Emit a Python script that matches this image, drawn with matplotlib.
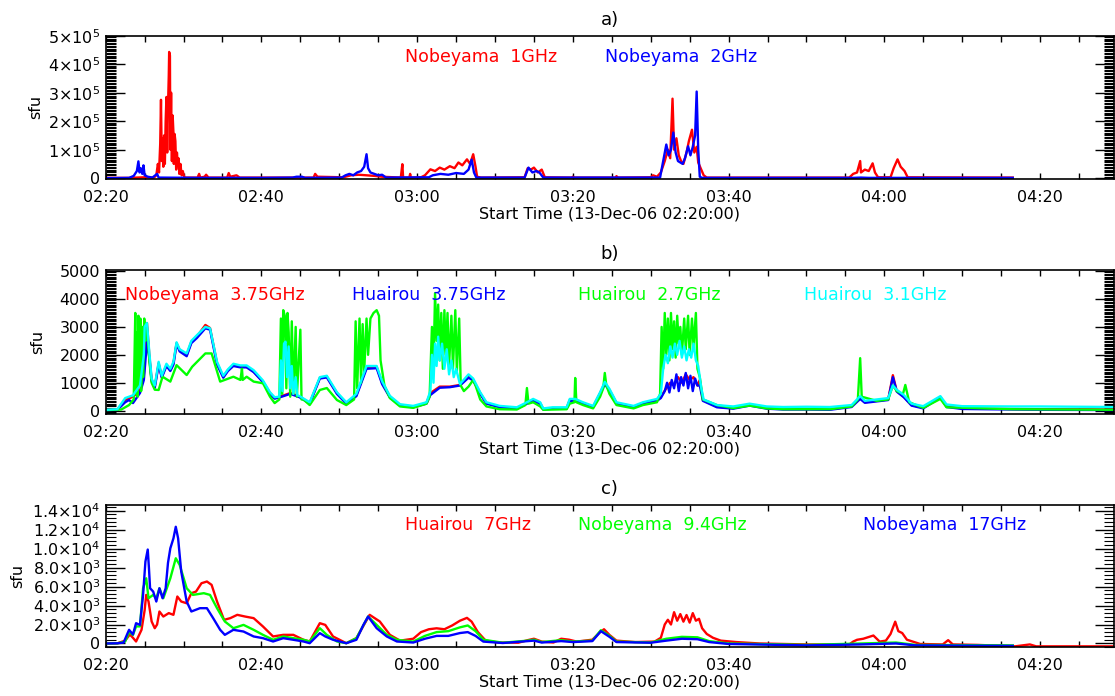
import numpy as np
import matplotlib.pyplot as plt
from matplotlib.ticker import MultipleLocator

# time axis: minutes after 02:20:00 UT (13-Dec-06)
xticks = [0, 20, 40, 60, 80, 100, 120]
xticklabels = ['02:20', '02:40', '03:00', '03:20', '03:40', '04:00', '04:20']

# each series: (minute, flux) pairs
# ---- a) Nobeyama 1 GHz / 2 GHz, flux in units of 1e5 sfu
a_red = [(0, 0.01), (3, 0.01), (4.2, 0.02), (5.0, 0.03), (6.2, 0.02), (6.5, 0.1), (6.7, 0.5),
         (6.85, 0.2), (7.0, 1.2), (7.1, 2.75), (7.2, 0.6), (7.3, 1.4), (7.4, 0.4), (7.5, 1.5),
         (7.6, 0.5), (7.7, 2.0), (7.8, 2.85), (7.9, 0.9), (8.0, 2.5), (8.1, 3.6), (8.15, 4.43),
         (8.25, 4.3), (8.3, 1.0), (8.4, 3.0), (8.5, 0.6), (8.6, 2.2), (8.7, 1.6), (8.75, 0.5),
         (8.85, 1.55), (8.95, 1.3), (9.05, 0.3), (9.15, 0.9), (9.25, 0.5), (9.35, 0.7),
         (9.45, 0.15), (9.6, 0.5), (9.75, 0.1), (9.9, 0.25), (10.1, 0.02), (11.8, 0.02),
         (12.0, 0.15), (12.15, 0.02), (12.7, 0.05), (12.9, 0.12), (13.2, 0.02), (15.6, 0.02),
         (15.8, 0.18), (16.0, 0.05), (16.8, 0.1), (17.2, 0.02), (26.7, 0.02), (26.9, 0.15),
         (27.2, 0.05), (30.5, 0.03), (31.5, 0.1), (32.5, 0.12), (33.5, 0.1), (34.5, 0.08),
         (35.5, 0.05), (37.9, 0.02), (38.1, 0.49), (38.2, 0.02), (39.0, 0.02), (39.1, 0.15),
         (39.2, 0.02), (40.5, 0.03), (41.0, 0.1), (41.7, 0.31), (42.3, 0.25), (42.9, 0.37),
         (43.5, 0.3), (44.2, 0.42), (44.8, 0.35), (45.3, 0.55), (45.8, 0.45), (46.4, 0.66),
         (46.8, 0.5), (47.2, 0.84), (47.5, 0.4), (47.7, 0.05), (48.2, 0.02), (53.8, 0.03),
         (54.2, 0.35), (54.6, 0.3), (55.0, 0.37), (55.5, 0.2), (56.0, 0.3), (56.4, 0.03),
         (59.9, 0.02), (60.0, 0.05), (60.2, 0.02), (65.5, 0.02), (65.6, 0.07), (65.8, 0.02),
         (70.0, 0.03), (70.3, 0.1), (70.8, 0.05), (71.3, 0.2), (71.8, 0.6), (72.2, 1.0),
         (72.5, 0.7), (72.8, 2.79), (73.0, 1.0), (73.3, 1.4), (73.6, 0.8), (73.9, 0.6),
         (74.2, 0.5), (74.6, 0.9), (74.9, 1.3), (75.3, 1.7), (75.6, 0.9), (75.9, 1.1),
         (76.1, 0.55), (76.8, 0.1), (77.2, 0.02), (95.5, 0.02), (96.0, 0.15), (96.5, 0.2),
         (96.9, 0.6), (97.0, 0.2), (97.5, 0.3), (98.0, 0.25), (98.5, 0.52), (98.8, 0.2),
         (99.2, 0.03), (100.8, 0.03), (101.2, 0.35), (101.7, 0.66), (102.1, 0.4), (102.6, 0.25),
         (103.0, 0.03), (116.5, 0.02)]
a_blue = [(0, 0.0), (3.0, 0.01), (3.6, 0.08), (4.0, 0.25), (4.2, 0.59), (4.35, 0.2), (4.5, 0.35),
          (4.7, 0.15), (4.85, 0.45), (5.0, 0.1), (5.4, 0.05), (6.0, 0.02), (6.6, 0.15), (6.8, 0.02),
          (12, 0.01), (20, 0.01), (24.0, 0.02), (24.5, 0.05), (25.2, 0.05), (25.6, 0.01),
          (30.3, 0.02), (30.8, 0.1), (31.3, 0.15), (31.8, 0.1), (32.3, 0.2), (32.8, 0.25),
          (33.2, 0.4), (33.5, 0.84), (33.7, 0.35), (34.0, 0.2), (34.5, 0.15), (35.0, 0.1),
          (35.5, 0.12), (36.0, 0.02), (41.5, 0.03), (42.0, 0.1), (43.0, 0.15), (44.0, 0.12),
          (45.0, 0.18), (46.0, 0.15), (46.6, 0.3), (47.0, 0.65), (47.3, 0.2), (47.6, 0.02),
          (53.8, 0.02), (54.3, 0.37), (54.8, 0.2), (55.3, 0.25), (55.7, 0.2), (56.2, 0.02),
          (71.2, 0.02), (71.6, 0.6), (72.0, 1.18), (72.3, 0.8), (72.6, 1.0), (72.9, 1.6),
          (73.2, 0.9), (73.5, 0.6), (73.8, 0.55), (74.1, 0.5), (74.4, 0.7), (74.8, 1.12),
          (75.1, 0.8), (75.4, 1.1), (75.7, 1.5), (75.9, 3.04), (76.1, 1.0), (76.3, 0.05),
          (76.6, 0.01), (96, 0.01), (97, 0.02), (98, 0.01), (116.5, 0.01)]

# ---- b) 3.75 / 2.7 / 3.1 GHz, sfu
b_red = [(0, 30), (1.5, 40), (2.5, 380), (3.5, 500), (4.4, 700), (4.9, 1300), (5.3, 3140),
         (5.6, 2000), (5.9, 1100), (6.3, 860), (6.8, 1700), (7.2, 1215), (7.8, 1630), (8.3, 1450),
         (8.7, 1700), (9.1, 2420), (9.5, 2170), (10.4, 1990), (11.0, 2470), (11.7, 2650),
         (12.8, 3070), (13.4, 2960), (14.3, 1700), (15.1, 1215), (15.7, 1450), (16.4, 1630),
         (17.3, 1570), (18.1, 1570), (19.0, 1400), (20.2, 1040), (21.1, 630), (21.7, 450),
         (22.4, 500), (23.7, 630), (24.9, 500), (26.2, 270), (27.5, 1170), (28.4, 1215),
         (29.7, 630), (30.9, 270), (32.2, 560), (33.5, 1570), (34.8, 1570), (35.5, 1000),
         (36.5, 500), (37.8, 200), (39.5, 140), (41.2, 270), (41.7, 630), (42.9, 860),
         (44.2, 860), (45.5, 920), (46.6, 1215), (47.2, 1100), (48.1, 630), (48.9, 270),
         (50.6, 140), (52.8, 90), (54.1, 270), (54.9, 380), (55.8, 270), (56.2, 50), (57.4, 90),
         (59.2, 90), (59.6, 380), (60.3, 380), (61.3, 270), (62.6, 140), (63.5, 630), (64.1, 990),
         (64.7, 740), (65.6, 270), (67.8, 140), (69.0, 270), (70.8, 380), (71.3, 500), (72.0, 800),
         (72.5, 1000), (73.0, 900), (73.5, 1200), (74.0, 1000), (74.5, 1300), (75.0, 1100),
         (75.5, 1200), (76.0, 900), (76.3, 1100), (76.7, 380), (78.5, 140), (80.6, 90),
         (82.7, 200), (84.9, 90), (87.0, 60), (90, 60), (93, 50), (95.8, 150), (96.9, 450),
         (97.5, 300), (99, 350), (100.5, 400), (101.1, 1270), (101.6, 700), (102.5, 500),
         (103.5, 200), (105, 100), (107.2, 490), (108, 150), (110, 80), (116.5, 60), (120, 50),
         (129.5, 40)]
b_blue = [(0, 20), (1.5, 30), (2.5, 300), (3.0, 380), (3.5, 270), (4.4, 630), (4.9, 1100),
          (5.3, 2470), (5.6, 1900), (5.9, 1050), (6.3, 820), (6.8, 1650), (7.2, 1180), (7.8, 1600),
          (8.3, 1420), (8.7, 1650), (9.1, 2380), (9.5, 2120), (10.4, 1950), (11.0, 2420),
          (11.7, 2600), (12.8, 2950), (13.4, 2900), (14.3, 1650), (15.1, 1180), (15.7, 1420),
          (16.4, 1600), (17.3, 1550), (18.1, 1550), (19.0, 1380), (20.2, 1020), (21.1, 600),
          (21.7, 430), (22.4, 480), (23.7, 600), (24.9, 480), (26.2, 250), (27.5, 1150),
          (28.4, 1190), (29.7, 600), (30.9, 250), (32.2, 520), (33.5, 1500), (34.8, 1520),
          (35.5, 950), (36.5, 470), (37.8, 180), (39.5, 120), (41.2, 250), (41.7, 560),
          (42.9, 820), (44.2, 840), (45.5, 900), (46.6, 1180), (47.2, 1080), (48.1, 600),
          (48.9, 250), (50.6, 120), (52.8, 70), (54.1, 250), (54.9, 350), (55.8, 250), (56.2, 40),
          (57.4, 70), (59.2, 70), (59.6, 350), (60.3, 350), (61.3, 250), (62.6, 120), (63.5, 600),
          (64.1, 950), (64.7, 720), (65.6, 250), (67.8, 120), (69.0, 250), (70.8, 350),
          (71.3, 450), (71.8, 700), (72.1, 1000), (72.4, 650), (72.7, 1100), (73.0, 800),
          (73.3, 1300), (73.6, 700), (73.9, 1200), (74.2, 900), (74.5, 1350), (74.8, 800),
          (75.1, 1250), (75.4, 700), (75.7, 1150), (76.0, 900), (76.3, 900), (76.7, 350),
          (78.5, 120), (80.6, 70), (82.7, 180), (84.9, 70), (87.0, 40), (90, 40), (93, 30),
          (95.8, 130), (96.9, 420), (97.5, 280), (99, 330), (100.5, 380), (101.1, 1200),
          (101.6, 680), (102.5, 480), (103.5, 180), (105, 80), (107.2, 470), (108, 130), (110, 60),
          (116.5, 40), (120, 30), (129.5, 20)]
b_green = [(0, 20), (2.0, 40), (3.0, 200), (3.6, 400), (3.8, 3500), (3.9, 600), (4.0, 2800),
           (4.1, 500), (4.2, 3400), (4.3, 900), (4.45, 3300), (4.55, 700), (4.7, 3000), (4.8, 1200),
           (4.95, 3300), (5.1, 2500), (5.3, 3000), (5.6, 1800), (5.9, 1000), (6.3, 750), (6.8, 740),
           (7.3, 1215), (8.3, 1040), (9.1, 1630), (10.4, 1275), (11.1, 1570), (12.8, 2050),
           (13.6, 2050), (14.7, 1040), (16.4, 1215), (17.3, 1100), (17.5, 1500), (17.6, 1100),
           (18.1, 1215), (19.0, 1040), (20.2, 980), (21.1, 500), (21.7, 270), (22.3, 400),
           (22.5, 3300), (22.65, 600), (22.8, 3600), (23.0, 3400), (23.2, 800), (23.35, 3500),
           (23.5, 2800), (23.7, 500), (23.9, 3200), (24.1, 600), (24.4, 3000), (24.55, 500),
           (25.0, 2900), (25.15, 400), (25.4, 400), (26.2, 200), (27.5, 740), (28.4, 810),
           (29.7, 380), (30.9, 200), (31.9, 400), (32.1, 3200), (32.3, 800), (32.6, 3300),
           (32.8, 1000), (33.0, 3100), (33.2, 1400), (33.5, 3300), (33.7, 2000), (34.0, 3300),
           (34.4, 3500), (34.8, 3600), (35.1, 3400), (35.3, 1800), (35.8, 900), (36.5, 450),
           (37.8, 150), (39.5, 100), (41.2, 250), (41.6, 500), (41.9, 3000), (42.1, 1500),
           (42.3, 4210), (42.5, 2500), (42.7, 3800), (42.9, 1800), (43.1, 3500), (43.3, 1500),
           (43.5, 3600), (43.7, 2000), (43.9, 3500), (44.1, 1600), (44.4, 3400), (44.6, 1500),
           (44.9, 3600), (45.1, 1400), (45.4, 3300), (45.6, 900), (46.0, 700), (46.6, 860),
           (47.2, 1100), (47.5, 900), (48.1, 400), (48.9, 150), (50.6, 50), (52.8, 40), (53.9, 200),
           (54.1, 810), (54.3, 250), (54.9, 300), (55.8, 150), (56.2, 30), (59.2, 50), (59.6, 250),
           (60.2, 300), (60.3, 1170), (60.45, 300), (61.3, 200), (62.6, 80), (63.5, 500),
           (63.9, 800), (64.1, 1350), (64.3, 900), (64.7, 600), (65.6, 200), (67.8, 80), (69.0, 200),
           (70.8, 300), (71.2, 600), (71.4, 3000), (71.6, 1500), (71.8, 3500), (72.0, 2000),
           (72.2, 3300), (72.4, 1800), (72.6, 3500), (72.8, 2200), (73.0, 3200), (73.2, 1900),
           (73.4, 3400), (73.6, 2400), (73.8, 3000), (74.0, 2000), (74.3, 3300), (74.5, 2200),
           (74.8, 3400), (75.0, 2000), (75.3, 3300), (75.5, 2300), (75.8, 3500), (76.0, 1500),
           (76.3, 1200), (76.7, 400), (78.5, 200), (80.6, 90), (82.7, 180), (84.9, 80), (87.0, 50),
           (93, 50), (95.8, 150), (96.6, 400), (96.9, 1880), (97.1, 500), (99, 350), (100.5, 400),
           (101.1, 900), (101.6, 700), (102.4, 600), (102.7, 920), (103.2, 300), (105, 100),
           (107.2, 420), (108, 120), (116.5, 50), (129.5, 30)]
b_cyan = [(0, 30), (1.5, 50), (2.5, 450), (3.5, 550), (4.4, 900), (4.9, 2000), (5.0, 3000),
          (5.3, 3140), (5.6, 2100), (5.9, 1150), (6.3, 900), (6.8, 1750), (7.2, 1250), (7.8, 1680),
          (8.3, 1500), (8.7, 1750), (9.1, 2450), (9.5, 2200), (10.4, 2050), (11.0, 2500),
          (11.7, 2700), (12.8, 3000), (13.4, 2950), (14.3, 1750), (15.1, 1250), (15.7, 1480),
          (16.4, 1680), (17.3, 1620), (18.1, 1620), (19.0, 1450), (20.2, 1080), (21.1, 660),
          (21.7, 480), (22.3, 500), (22.5, 1800), (22.7, 700), (22.9, 2400), (23.1, 2470),
          (23.3, 1200), (23.5, 2300), (23.7, 800), (23.9, 1600), (24.1, 600), (24.4, 1200),
          (24.6, 550), (24.9, 520), (26.2, 300), (27.5, 1200), (28.4, 1250), (29.7, 660),
          (30.9, 300), (32.2, 600), (33.5, 1600), (34.8, 1600), (35.5, 1050), (36.5, 530),
          (37.8, 230), (39.5, 170), (41.2, 300), (41.7, 700), (41.9, 2000), (42.1, 1000),
          (42.3, 2400), (42.5, 1600), (42.7, 2650), (42.9, 1800), (43.2, 2400), (43.5, 1500),
          (43.8, 2200), (44.1, 1300), (44.4, 1800), (44.7, 1200), (45.0, 1500), (45.5, 950),
          (46.6, 1300), (47.2, 1150), (48.1, 660), (48.9, 300), (50.6, 170), (52.8, 120),
          (54.1, 300), (54.9, 420), (55.8, 300), (56.2, 80), (57.4, 120), (59.2, 120), (59.6, 420),
          (60.3, 420), (61.3, 300), (62.6, 170), (63.5, 660), (64.1, 1030), (64.7, 780),
          (65.6, 300), (67.8, 170), (69.0, 300), (70.8, 420), (71.3, 600), (71.6, 1500),
          (71.9, 2000), (72.2, 1700), (72.5, 2300), (72.8, 1900), (73.1, 2400), (73.4, 2000),
          (73.7, 2500), (74.0, 1900), (74.3, 2300), (74.6, 1800), (74.9, 2200), (75.2, 1900),
          (75.5, 2400), (75.8, 1800), (76.1, 1600), (76.5, 800), (76.8, 400), (78.5, 200),
          (80.6, 150), (82.7, 250), (84.9, 150), (87.0, 130), (90, 140), (93, 130), (95.8, 200),
          (96.9, 520), (97.5, 350), (99, 400), (100.5, 450), (101.1, 900), (101.6, 750),
          (102.5, 560), (103.5, 250), (105, 160), (107.2, 520), (108, 220), (110, 160),
          (116.5, 150), (120, 150), (129.5, 130)]

# ---- c) Huairou 7 GHz, Nobeyama 9.4 / 17 GHz, sfu
c_red = [(0, 0), (1.5, 20), (2.5, 300), (3.1, 950), (3.5, 600), (3.9, 210), (4.6, 1440), (5.0, 3500),
         (5.2, 5120), (5.5, 4420), (5.9, 2320), (6.3, 1610), (6.6, 2000), (6.9, 3370), (7.4, 2840),
         (8.1, 3200), (8.7, 3020), (9.2, 4950), (9.7, 4420), (10.4, 4240), (11.0, 5300),
         (11.6, 5470), (12.3, 6350), (13.0, 6530), (13.6, 6180), (14.3, 4420), (15.2, 2490),
         (16.0, 2670), (16.9, 3020), (17.9, 2840), (19.0, 2670), (20.2, 1790), (21.5, 740),
         (22.8, 910), (24.1, 910), (25.4, 390), (26.2, 210), (27.5, 2140), (28.2, 1960),
         (29.2, 740), (30.9, 30), (32.2, 560), (33.9, 3020), (35.2, 2320), (36.5, 910), (37.8, 300),
         (39.5, 500), (40.5, 1200), (41.5, 1500), (42.5, 1600), (43.5, 1500), (44.5, 1900),
         (45.5, 2400), (46.4, 2700), (47.0, 2300), (47.8, 1200), (48.8, 300), (50.5, 100), (53, 80),
         (54.2, 350), (55, 500), (56, 200), (57.5, 100), (58.5, 500), (59.5, 400), (60.5, 200),
         (61.5, 300), (62.5, 400), (63.5, 1200), (64.0, 1500), (64.7, 900), (65.6, 300), (68, 150),
         (70.5, 200), (71.3, 600), (71.8, 2000), (72.2, 2500), (72.6, 2000), (73.0, 3300),
         (73.4, 2400), (73.8, 3100), (74.2, 2300), (74.6, 3000), (75.0, 2200), (75.4, 3200),
         (75.8, 2400), (76.2, 2600), (76.6, 1600), (77.2, 1000), (78.0, 600), (79.0, 300),
         (81, 150), (84, 0), (90, -100), (95.5, -100), (96.0, 200), (96.5, 390), (97.3, 500),
         (98.6, 840), (99.4, 200), (100.2, 300), (100.8, 1000), (101.4, 2300), (101.8, 1300),
         (102.3, 1100), (102.9, 400), (104.6, -50), (107.5, -100), (108.2, 350), (108.8, -100),
         (112, -150), (116.8, -300), (118.7, -100), (119.5, -300), (124, -300), (129.5, -300)]
c_green = [(0, 0), (1.5, 20), (2.5, 200), (3.0, 1200), (3.5, 900), (3.9, 1800), (4.4, 1800),
           (4.8, 5820), (5.2, 6870), (5.5, 4770), (6.1, 5120), (6.5, 4770), (6.9, 5820), (7.4, 4770),
           (8.3, 6870), (9.0, 8980), (9.5, 8280), (10.4, 5820), (11.2, 5120), (12.6, 5300),
           (13.4, 5120), (14.3, 3720), (15.3, 2320), (16.4, 1610), (17.7, 1960), (19.0, 1440),
           (20.2, 910), (21.5, 390), (22.8, 740), (24.1, 560), (25.4, 390), (26.2, 210), (27.5, 1610),
           (28.4, 910), (29.7, 210), (30.9, 30), (32.2, 560), (33.7, 2840), (34.8, 1960), (36.1, 910),
           (37.4, 390), (39.5, 200), (41, 800), (42.5, 1200), (44, 1300), (45.5, 1700), (46.5, 1900),
           (47.5, 1300), (48.5, 400), (51, 80), (54.2, 300), (55, 400), (56, 150), (58.5, 350),
           (60, 200), (62.5, 300), (63.6, 1400), (64.7, 800), (65.6, 200), (70, 100), (72, 500),
           (74, 700), (76, 650), (77.5, 250), (80, 0), (90, -150), (97, 0), (101.5, 100), (104, -150),
           (116.5, -200)]
c_blue = [(0, 0), (1.5, 20), (2.3, 100), (3.0, 1440), (3.5, 950), (3.9, 2140), (4.4, 1960),
          (4.8, 5120), (5.1, 8630), (5.4, 9900), (5.55, 8000), (5.7, 5820), (6.1, 5470), (6.5, 4420),
          (6.9, 5820), (7.3, 4770), (7.7, 5820), (8.0, 8500), (8.3, 10030), (8.7, 11080),
          (9.0, 12300), (9.3, 11080), (9.7, 7580), (10.4, 4420), (11.0, 3370), (12.1, 3720),
          (13.0, 3720), (13.8, 2670), (14.7, 1440), (15.3, 910), (16.4, 1440), (17.7, 1260),
          (19.0, 740), (20.2, 560), (21.5, 210), (22.8, 560), (24.1, 390), (25.4, 210), (26.2, 30),
          (27.5, 1090), (28.2, 740), (29.2, 390), (30.9, 30), (32.2, 390), (33.1, 1960), (33.7, 2840),
          (34.8, 1610), (36.1, 740), (37.4, 210), (39.5, 100), (41, 500), (42.5, 800), (44, 800),
          (45.5, 1100), (46.5, 1200), (47.5, 800), (48.5, 200), (51, 50), (54.2, 250), (55, 300),
          (56, 100), (58.5, 250), (60, 150), (62.5, 250), (63.6, 1300), (64.7, 700), (65.6, 150),
          (70, 80), (72, 300), (74, 500), (76, 450), (77.5, 150), (80, -50), (90, -200), (97, -100),
          (101.5, 0), (104, -200), (116.5, -250)]

RED, BLUE, GREEN, CYAN = '#ff0000', '#0000ff', '#00ff00', '#00ffff'

fig = plt.figure(figsize=(11.15, 6.96), dpi=100)
left, width = 0.0948, 0.9043
ax_a = fig.add_axes([left, 0.7428, width, 0.2059])
ax_b = fig.add_axes([left, 0.4052, width, 0.2069])
ax_c = fig.add_axes([left, 0.0700, width, 0.2045])


def draw(ax, series, color, scale=1.0):
    t, v = np.array(series, dtype=float).T
    ax.plot(t, v * scale, color=color, lw=1.7)


def style(ax, title, yticks, ylabels, yminor, ylim, labelx):
    ax.set_xlim(0, 129.5)
    ax.set_ylim(*ylim)
    ax.set_xticks(xticks)
    ax.set_xticklabels(xticklabels)
    ax.xaxis.set_minor_locator(MultipleLocator(5))
    ax.set_yticks(yticks)
    ax.set_yticklabels(ylabels)
    ax.yaxis.set_minor_locator(MultipleLocator(yminor))
    ax.tick_params(axis='x', which='both', direction='in', top=True, length=4, width=1,
                   labelsize=11.5, pad=8)
    ax.tick_params(axis='y', which='major', direction='in', right=True, length=14, width=1,
                   labelsize=11.5, pad=4)
    ax.tick_params(axis='y', which='minor', direction='in', right=True, length=7, width=0.8)
    for s in ax.spines.values():
        s.set_linewidth(1.2)
    ax.set_title(title, fontsize=13, pad=8)
    ax.set_xlabel('Start Time (13-Dec-06 02:20:00)', fontsize=11.5, labelpad=1)
    ax.set_ylabel('sfu', fontsize=11.5)
    ax.yaxis.set_label_coords(labelx, 0.5)


def sci(m, e):
    return r'$%s{\times}10^{%d}$' % (m, e)


# a)
draw(ax_a, a_red, RED, 1e5)
draw(ax_a, a_blue, BLUE, 1e5)
style(ax_a, 'a)', [0, 1e5, 2e5, 3e5, 4e5, 5e5],
      ['0'] + [sci(k, 5) for k in range(1, 6)], 5000, (-3000, 5e5), -0.062)
ax_a.text(0.297, 0.85, 'Nobeyama  1GHz', color=RED, fontsize=12.5, transform=ax_a.transAxes, va='center')
ax_a.text(0.495, 0.85, 'Nobeyama  2GHz', color=BLUE, fontsize=12.5, transform=ax_a.transAxes, va='center')

# b)
draw(ax_b, b_red, RED)
draw(ax_b, b_blue, BLUE)
draw(ax_b, b_green, GREEN)
draw(ax_b, b_cyan, CYAN)
style(ax_b, 'b)', [0, 1000, 2000, 3000, 4000, 5000],
      ['0', '1000', '2000', '3000', '4000', '5000'], 50, (-120, 5040), -0.060)
for xpos, txt, col in [(0.019, 'Nobeyama  3.75GHz', RED), (0.244, 'Huairou  3.75GHz', BLUE),
                       (0.468, 'Huairou  2.7GHz', GREEN), (0.693, 'Huairou  3.1GHz', CYAN)]:
    ax_b.text(xpos, 0.826, txt, color=col, fontsize=12.5, transform=ax_b.transAxes, va='center')

# c)
draw(ax_c, c_red, RED)
draw(ax_c, c_green, GREEN)
draw(ax_c, c_blue, BLUE)
style(ax_c, 'c)', [0, 2000, 4000, 6000, 8000, 10000, 12000, 14000],
      ['0', sci('2.0', 3), sci('4.0', 3), sci('6.0', 3), sci('8.0', 3),
       sci('1.0', 4), sci('1.2', 4), sci('1.4', 4)],
      400, (-400, 14600), -0.080)
for xpos, txt, col in [(0.297, 'Huairou  7GHz', RED), (0.468, 'Nobeyama  9.4GHz', GREEN),
                       (0.751, 'Nobeyama  17GHz', BLUE)]:
    ax_c.text(xpos, 0.86, txt, color=col, fontsize=12.5, transform=ax_c.transAxes, va='center')

fig.savefig('out.png', dpi=100)
